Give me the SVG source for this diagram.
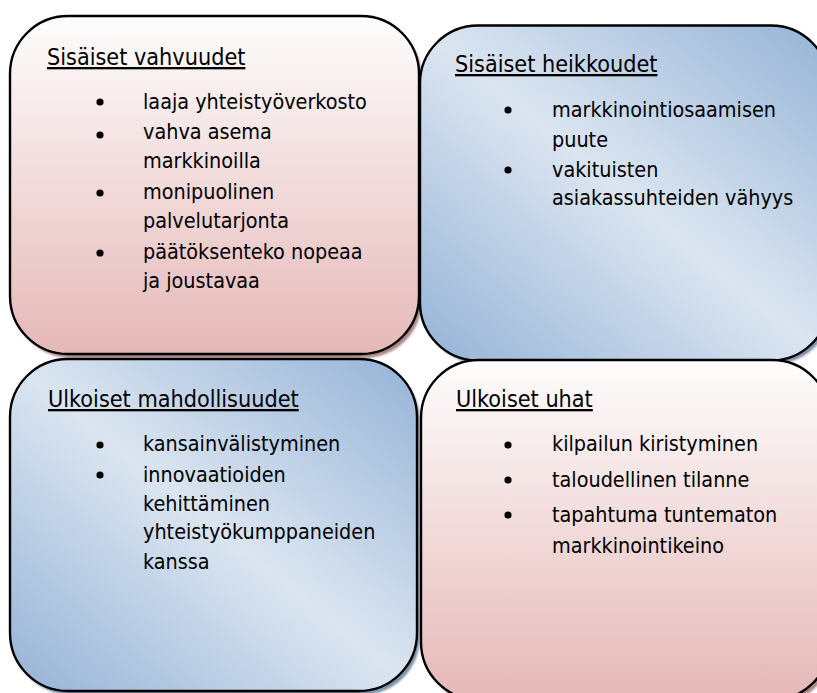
<svg xmlns="http://www.w3.org/2000/svg" width="817" height="693" viewBox="0 0 817 693">
  <defs>
    <linearGradient id="gradPink" x1="0" y1="0" x2="0" y2="1">
      <stop offset="0" stop-color="#fefdfd"/>
      <stop offset="1" stop-color="#e5b8b7"/>
    </linearGradient>
    <linearGradient id="gradBlue" x1="1" y1="0" x2="0" y2="1">
      <stop offset="0" stop-color="#95b3d7"/>
      <stop offset="0.5" stop-color="#dbe5f1"/>
      <stop offset="1" stop-color="#95b3d7"/>
    </linearGradient>
    <filter id="soft" x="-5%" y="-5%" width="110%" height="110%">
      <feGaussianBlur stdDeviation="0.8"/>
    </filter>
  </defs>
  <style>
    .box { stroke: #000; stroke-width: 2.4; }
    .pink { fill: url(#gradPink); }
    .blue { fill: url(#gradBlue); }
    .shadowPink { fill: #a88584; filter: url(#soft); }
    .shadowBlue { fill: #7d8fa8; filter: url(#soft); }
    text { font-family: "DejaVu Sans Condensed", "DejaVu Sans", sans-serif; font-stretch: condensed; font-size: 21.4px; fill: #000; }
    .title { font-size: 23.2px; text-decoration: underline; }
    .dot { fill: #000; }
  </style>

  <rect width="817" height="693" fill="#fff"/>

  <!-- Strengths -->
  <g id="vahvuudet">
    <rect class="shadowPink" x="13" y="20" width="409" height="338" rx="58"/>
    <rect class="box pink" x="10" y="16" width="409" height="338" rx="58"/>
    <text class="title" x="47" y="65">Sisäiset vahvuudet</text>
    <circle class="dot" cx="100" cy="102" r="3.6"/>
    <circle class="dot" cx="100" cy="135" r="3.6"/>
    <circle class="dot" cx="100" cy="193" r="3.6"/>
    <circle class="dot" cx="100" cy="253" r="3.6"/>
    <text x="143" y="109">laaja yhteistyöverkosto</text>
    <text x="143" y="139">vahva asema</text>
    <text x="143" y="168">markkinoilla</text>
    <text x="143" y="199">monipuolinen</text>
    <text x="143" y="228">palvelutarjonta</text>
    <text x="143" y="259">päätöksenteko nopeaa</text>
    <text x="143" y="288">ja joustavaa</text>
  </g>

  <!-- Weaknesses -->
  <g id="heikkoudet">
    <rect class="shadowBlue" x="423" y="29" width="409" height="335" rx="58"/>
    <rect class="box blue" x="420" y="25.5" width="409" height="335" rx="58"/>
    <text class="title" x="455" y="72">Sisäiset heikkoudet</text>
    <circle class="dot" cx="508" cy="110" r="3.6"/>
    <circle class="dot" cx="508" cy="170" r="3.6"/>
    <text x="552" y="117">markkinointiosaamisen</text>
    <text x="552" y="147">puute</text>
    <text x="552" y="177">vakituisten</text>
    <text x="552" y="205">asiakassuhteiden vähyys</text>
  </g>

  <!-- Opportunities -->
  <g id="mahdollisuudet">
    <rect class="shadowBlue" x="13" y="363" width="407" height="332" rx="58"/>
    <rect class="box blue" x="10" y="359" width="407" height="332" rx="58"/>
    <text class="title" x="48" y="407">Ulkoiset mahdollisuudet</text>
    <circle class="dot" cx="100" cy="445" r="3.6"/>
    <circle class="dot" cx="100" cy="475" r="3.6"/>
    <text x="143" y="451">kansainvälistyminen</text>
    <text x="143" y="482">innovaatioiden</text>
    <text x="143" y="511">kehittäminen</text>
    <text x="143" y="539">yhteistyökumppaneiden</text>
    <text x="143" y="569">kanssa</text>
  </g>

  <!-- Threats -->
  <g id="uhat">
    <rect class="shadowPink" x="424" y="364" width="409" height="340" rx="58"/>
    <rect class="box pink" x="421" y="360" width="409" height="340" rx="58"/>
    <text class="title" x="456" y="407">Ulkoiset uhat</text>
    <circle class="dot" cx="508" cy="445" r="3.6"/>
    <circle class="dot" cx="508" cy="480" r="3.6"/>
    <circle class="dot" cx="508" cy="515" r="3.6"/>
    <text x="552" y="451">kilpailun kiristyminen</text>
    <text x="552" y="487">taloudellinen tilanne</text>
    <text x="552" y="522">tapahtuma tuntematon</text>
    <text x="552" y="553">markkinointikeino</text>
  </g>

  <!-- no connectors in this chart -->
  <g id="connectors"/>
</svg>
